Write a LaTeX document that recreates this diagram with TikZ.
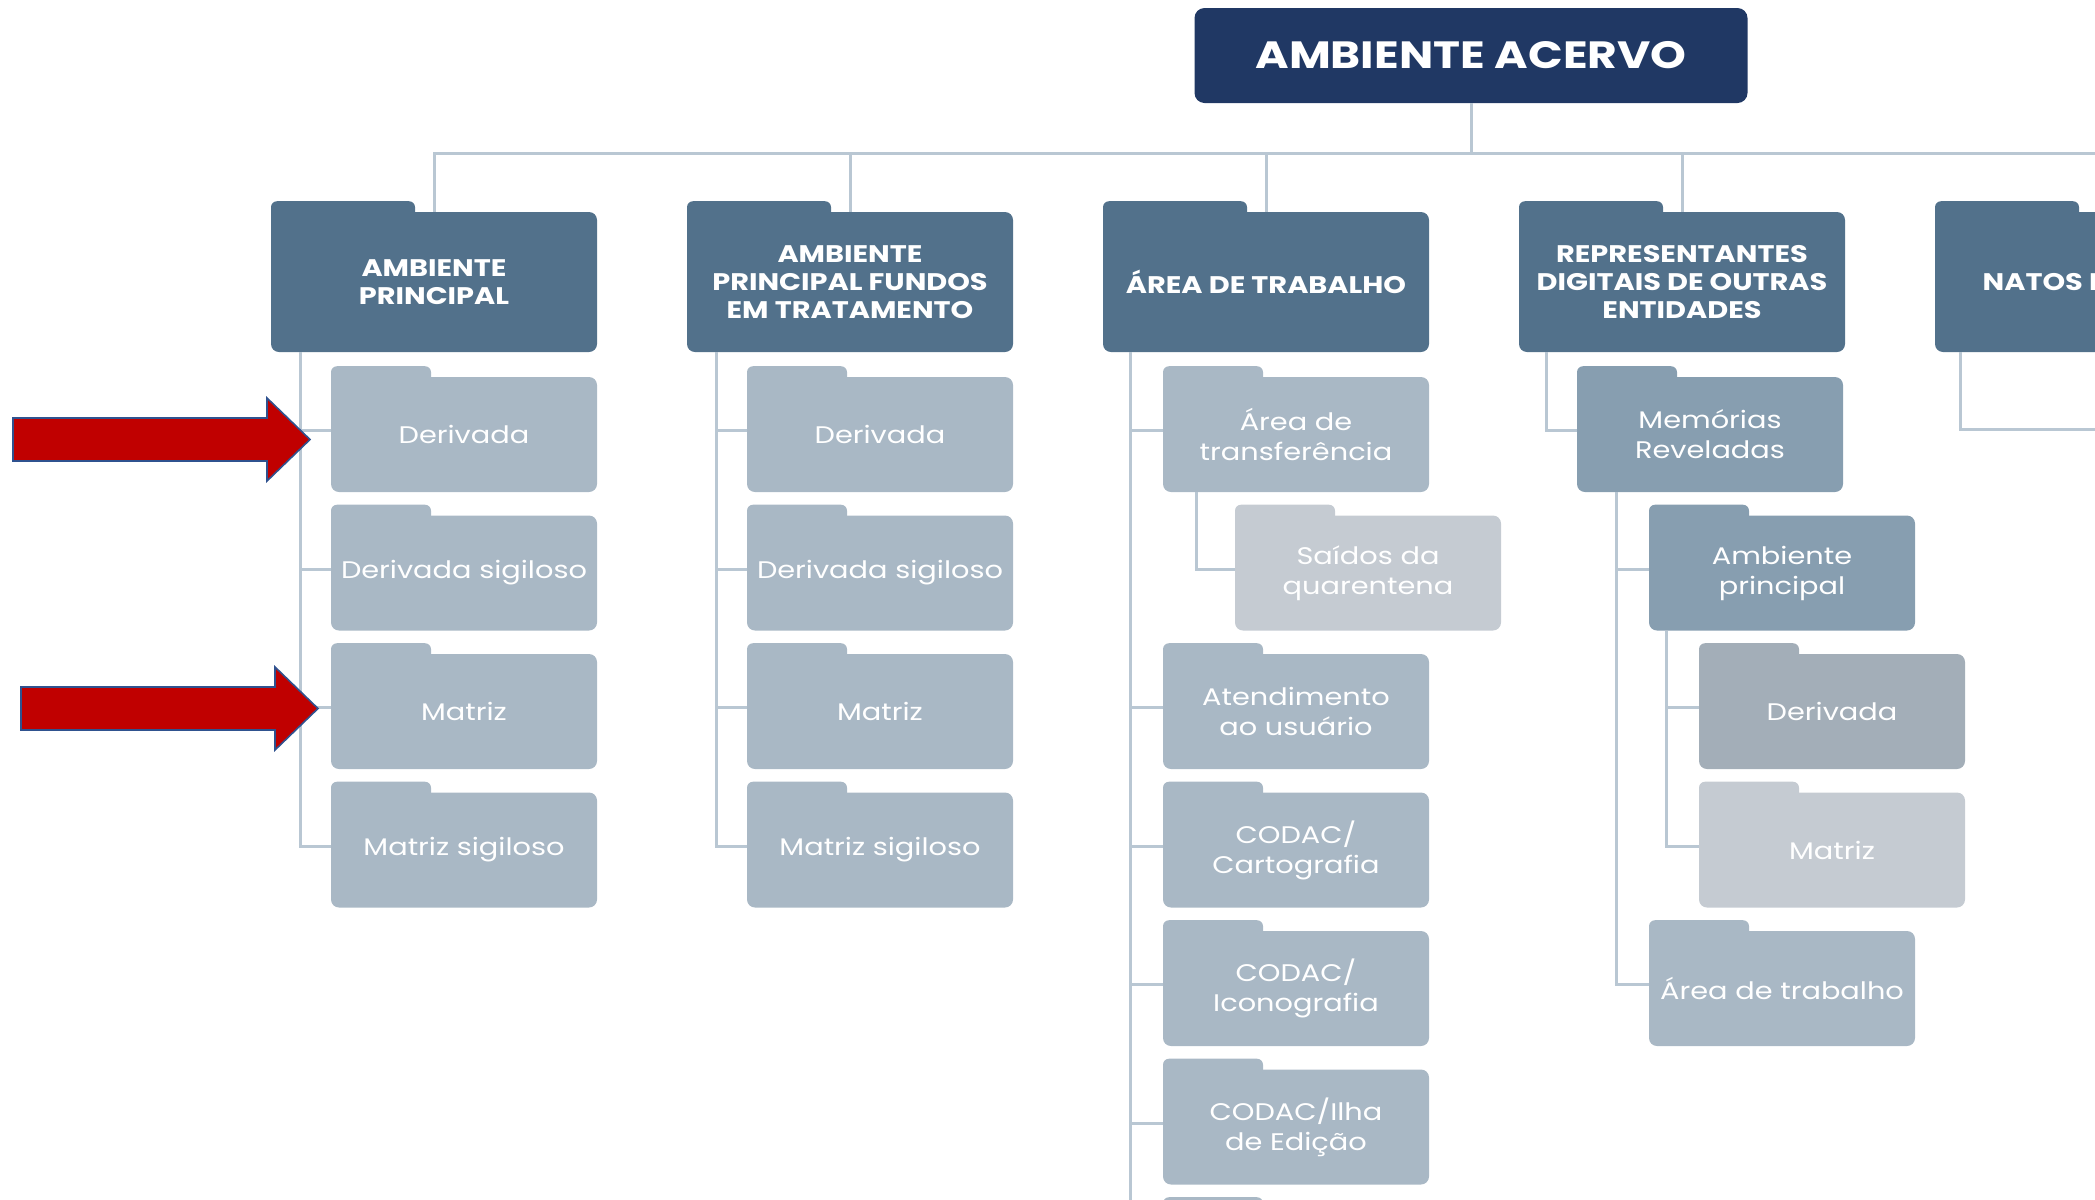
\documentclass[tikz,border=0pt]{standalone}
\usepackage{fontspec}
\setmainfont{Poppins}[FakeStretch=1.2]
\usetikzlibrary{positioning,calc}
\definecolor{navy}{HTML}{203864}
\definecolor{steel}{HTML}{52718B}
\definecolor{fgray}{HTML}{A9B8C5}
\definecolor{fpale}{HTML}{C5CBD2}
\definecolor{fmid}{HTML}{879EB0}
\definecolor{fdim}{HTML}{A3AEB8}
\definecolor{linec}{HTML}{B9C7D3}
\definecolor{arrred}{HTML}{C00000}
\definecolor{arrblue}{HTML}{2F528F}
\tikzset{
  rootbox/.style = { fill=navy, rounded corners=5pt, text=white, inner sep=0pt,
    minimum width=276.5pt, minimum height=47.5pt, font=\bfseries\fontsize{19}{22}\selectfont },
  foldtab/.style = { rectangle, fill=#1, rounded corners=3pt, inner sep=0pt,
    minimum height=12pt, anchor=south west },
  topfold/.style = { fill=steel, rounded corners=4pt, text=white, align=center, inner sep=0pt,
    minimum width=163pt, minimum height=70pt, font=\bfseries\fontsize{12}{14}\selectfont,
    append after command={ node[foldtab=steel, minimum width=72pt] at ([yshift=-7pt]\tikzlastnode.north west) {} } },
  fold/.style = { fill=#1, rounded corners=4pt, text=white, align=center, inner sep=0pt,
    minimum width=133pt, minimum height=57.5pt, font=\fontsize{12}{15}\selectfont,
    append after command={ node[foldtab=#1, minimum width=50pt] at ([yshift=-7pt]\tikzlastnode.north west) {} } },
  fold/.default = fgray,
  conn/.style = { draw=linec, line width=1.5pt },
  redarr/.style = { fill=arrred, draw=arrblue, line width=0.8pt }
}
\begin{document}
\begin{tikzpicture}[x=0.5pt, y=-0.5pt, on grid]
  \useasboundingbox (0,0) rectangle (2095,1200);
  \clip (0,0) rectangle (2095,1200);
  \node[rootbox] (root) at (1471,55.5) {AMBIENTE ACERVO};
  % first level
  \node[topfold] (amb) at (434,282) {AMBIENTE\\PRINCIPAL};
  \node[topfold, right=208pt of amb] (ambf) {AMBIENTE\\PRINCIPAL FUNDOS\\EM TRATAMENTO};
  \node[topfold, right=208pt of ambf] (area) {ÁREA DE TRABALHO};
  \node[topfold, right=208pt of area] (repr) {REPRESENTANTES\\DIGITAIS DE OUTRAS\\ENTIDADES};
  \node[topfold, right=208pt of repr] (natos) {NATOS DIGITAIS};
  \coordinate (bus) at ([yshift=-25pt]root.south);
  \foreach \n in {amb,ambf,area,repr,natos}
    \draw[conn] (root.south) -- (bus) -| (\n.north);
  % ambiente principal
  \node[fold, below right=76.25pt and 15pt of amb] (a1) {Derivada};
  \node[fold, below=69.25pt of a1] (a2) {Derivada sigiloso};
  \node[fold, below=69.25pt of a2] (a3) {Matriz};
  \node[fold, below=69.25pt of a3] (a4) {Matriz sigiloso};
  % fundos em tratamento
  \node[fold, below right=76.25pt and 15pt of ambf] (b1) {Derivada};
  \node[fold, below=69.25pt of b1] (b2) {Derivada sigiloso};
  \node[fold, below=69.25pt of b2] (b3) {Matriz};
  \node[fold, below=69.25pt of b3] (b4) {Matriz sigiloso};
  % area de trabalho
  \node[fold, below right=76.25pt and 15pt of area] (c1) {Área de\\transferência};
  \node[fold=fpale, below right=69.25pt and 36pt of c1] (c2) {Saídos da\\quarentena};
  \node[fold, below=138.5pt of c1] (c3) {Atendimento\\ao usuário};
  \node[fold, below=69.25pt of c3] (c4) {CODAC/\\Cartografia};
  \node[fold, below=69.25pt of c4] (c5) {CODAC/\\Iconografia};
  \node[fold, below=69.25pt of c5] (c6) {CODAC/Ilha\\de Edição};
  \node[fold, below=69.25pt of c6] (c7) {};
  % representantes digitais
  \node[fold=fmid, below right=76.25pt and 14pt of repr] (d1) {Memórias\\Reveladas};
  \node[fold=fmid, below right=69.25pt and 36pt of d1] (d2) {Ambiente\\principal};
  \node[fold=fdim, below right=69.25pt and 25pt of d2] (d3) {Derivada};
  \node[fold=fpale, below=69.25pt of d3] (d4) {Matriz};
  \node[fold, below=207.75pt of d2] (d5) {Área de trabalho};
  \coordinate (nout) at (2130,429);

  \foreach \c in {a1,a2,a3,a4}
    \draw[conn] ([xshift=15pt]amb.south west) |- ([yshift=2pt]\c.west);
  \foreach \c in {b1,b2,b3,b4}
    \draw[conn] ([xshift=15pt]ambf.south west) |- ([yshift=2pt]\c.west);
  \foreach \c in {c1,c3,c4,c5,c6,c7}
    \draw[conn] ([xshift=14pt]area.south west) |- ([yshift=2pt]\c.west);
  \draw[conn] ([xshift=17pt]c1.south west) |- ([yshift=2pt]c2.west);
  \draw[conn] ([xshift=14pt]repr.south west) |- ([yshift=2pt]d1.west);
  \foreach \c in {d2,d5}
    \draw[conn] ([xshift=20pt]d1.south west) |- ([yshift=2pt]\c.west);
  \foreach \c in {d3,d4}
    \draw[conn] ([xshift=9pt]d2.south west) |- ([yshift=2pt]\c.west);
  \draw[conn] ([xshift=13pt]natos.south west) |- (nout);

  \foreach \dx/\yy in {0/439.5, 8/708.5}
    \draw[redarr, shift={(\dx,\yy)}] (13,-21.5) -- (267,-21.5) -- (267,-41.5) -- (310,0)
      -- (267,41.5) -- (267,21.5) -- (13,21.5) -- cycle;
\end{tikzpicture}
\end{document}
